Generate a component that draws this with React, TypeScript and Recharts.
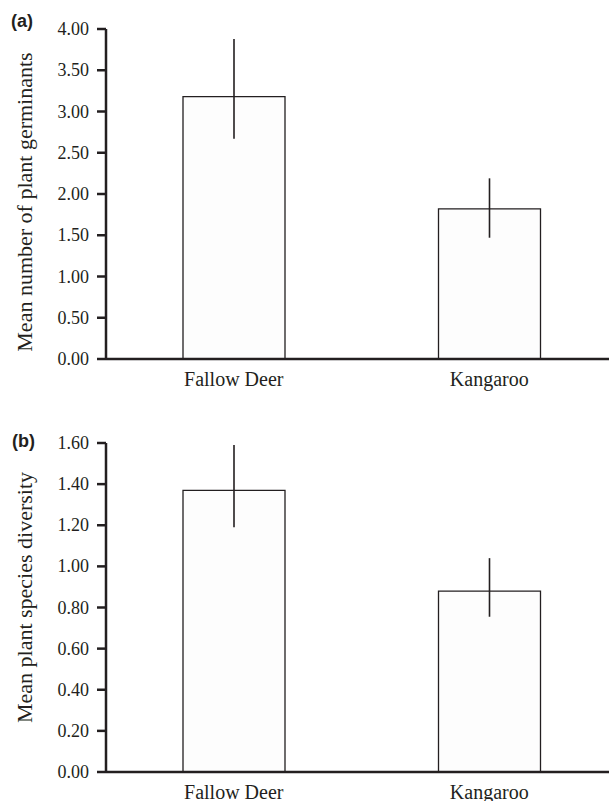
import React from "react";
import { BarChart, Bar, XAxis, YAxis, ErrorBar } from "recharts";

// panel (a): mean number of plant germinants
const categories = ["Fallow Deer", "Kangaroo"];
const germinants = [3.18, 1.82];
const germinantsErr: [number, number][] = [
  [0.51, 0.7],
  [0.35, 0.37],
];
const germTicks = [0, 0.5, 1, 1.5, 2, 2.5, 3, 3.5, 4];

// panel (b): mean plant species diversity
const diversity = [1.37, 0.88];
const diversityErr: [number, number][] = [
  [0.18, 0.22],
  [0.125, 0.16],
];
const divTicks = [0, 0.2, 0.4, 0.6, 0.8, 1.0, 1.2, 1.4, 1.6];

const INK = "#231f20";
const SERIF = "Liberation Serif";

const dataA = categories.map((c, i) => ({ name: c, value: germinants[i], err: germinantsErr[i] }));
const dataB = categories.map((c, i) => ({ name: c, value: diversity[i], err: diversityErr[i] }));

function YLabel(props: any) {
  const { viewBox, value, dy } = props;
  const x = viewBox.x + 24;
  const y = viewBox.y + viewBox.height / 2 + dy;
  return (
    <text
      x={x}
      y={y}
      transform={`rotate(-90, ${x}, ${y})`}
      textAnchor="middle"
      dominantBaseline="central"
      style={{ fontFamily: SERIF, fontSize: 22 }}
      fill={INK}
    >
      {value}
    </text>
  );
}

const renderYTick = (props: any) => {
  const { x, y, payload } = props;
  return (
    <g key={`yt-${payload.value}`}>
      <text
        x={x}
        y={y + 6}
        textAnchor="end"
        style={{ fontFamily: SERIF, fontSize: 18 }}
        fill={INK}
      >
        {Number(payload.value).toFixed(2)}
      </text>
    </g>
  );
};

const renderXTick = (props: any) => {
  const { x, y, payload } = props;
  return (
    <g key={`xt-${payload.value}`}>
      <text x={x} y={y + 27} textAnchor="middle" style={{ fontFamily: SERIF, fontSize: 20 }} fill={INK}>
        {payload.value}
      </text>
    </g>
  );
};

function Panel({
  data,
  ticks,
  max,
  label,
  labelDy,
  plotHeight,
}: {
  data: any[];
  ticks: number[];
  max: number;
  label: string;
  labelDy: number;
  plotHeight: number;
}) {
  return (
    <BarChart
      width={640}
      height={29 + plotHeight + 41}
      data={data}
      margin={{ top: 29, right: 23, bottom: 0, left: 0 }}
      barCategoryGap={0}
    >
      <XAxis
        dataKey="name"
        height={41}
        tickLine={false}
        tickSize={0}
        tickMargin={0}
        axisLine={{ stroke: INK, strokeWidth: 2.5 }}
        tick={renderXTick}
      />
      <YAxis
        width={106}
        domain={[0, max]}
        ticks={ticks}
        interval={0}
        tickSize={9}
        tickMargin={8}
        tickLine={{ stroke: INK, strokeWidth: 2.5 }}
        axisLine={{ stroke: INK, strokeWidth: 2.5 }}
        tick={renderYTick}
        label={<YLabel value={label} dy={labelDy} />}
      />
      <Bar
        dataKey="value"
        barSize={102}
        fill="#fdfdfd"
        stroke={INK}
        strokeWidth={1.3}
        isAnimationActive={false}
      >
        <ErrorBar dataKey="err" width={0} stroke={INK} strokeWidth={1.6} direction="y" />
      </Bar>
    </BarChart>
  );
}

export default function App() {
  const panelLetter: React.CSSProperties = {
    position: "absolute",
    fontFamily: "'Liberation Sans', Arial, sans-serif",
    fontWeight: "bold",
    fontSize: 18,
    color: INK,
    lineHeight: 1,
  };
  return (
    <div
      style={{
        position: "fixed",
        top: 0,
        left: 0,
        width: 609,
        height: 801,
        overflow: "hidden",
        background: "#fff",
      }}
    >
      <div style={{ position: "absolute", top: 0, left: 0 }}>
        <Panel data={dataA} ticks={germTicks} max={4} label="Mean number of plant germinants" labelDy={8} plotHeight={330} />
      </div>
      <div style={{ position: "absolute", top: 414, left: 0 }}>
        <Panel data={dataB} ticks={divTicks} max={1.6} label="Mean plant species diversity" labelDy={-10} plotHeight={329} />
      </div>
      <div style={{ ...panelLetter, top: 12, left: 11 }}>(a)</div>
      <div style={{ ...panelLetter, top: 432, left: 12 }}>(b)</div>
    </div>
  );
}
